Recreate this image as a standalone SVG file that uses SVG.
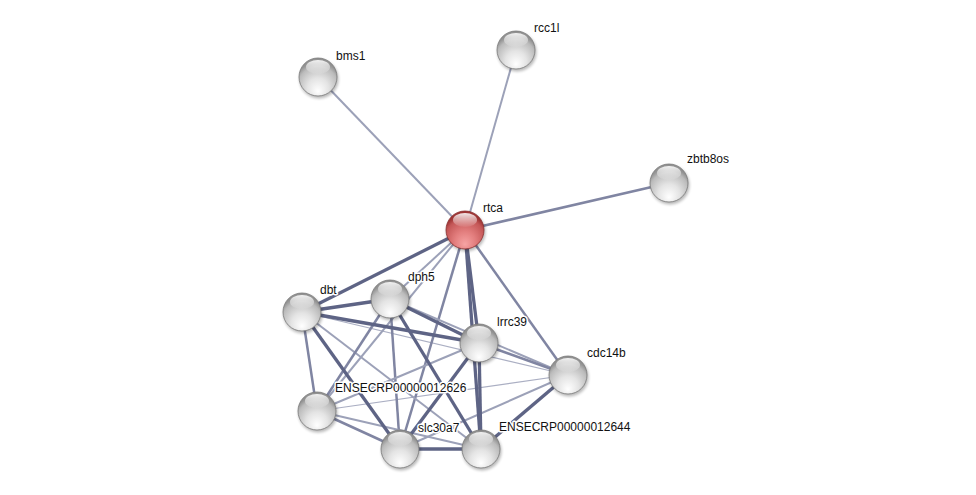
<svg xmlns="http://www.w3.org/2000/svg" width="976" height="495" viewBox="0 0 976 495">
<defs>
<radialGradient id="gBall" cx="50%" cy="72%" r="62%" fx="50%" fy="88%">
<stop offset="0" stop-color="#ffffff"/>
<stop offset="0.45" stop-color="#e4e4e4"/>
<stop offset="0.85" stop-color="#bbbbbb"/>
<stop offset="1" stop-color="#929292"/>
</radialGradient>
<radialGradient id="gRed" cx="50%" cy="72%" r="62%" fx="50%" fy="88%">
<stop offset="0" stop-color="#f7a4a4"/>
<stop offset="0.45" stop-color="#e27d7d"/>
<stop offset="0.85" stop-color="#c45757"/>
<stop offset="1" stop-color="#9e3535"/>
</radialGradient>
<linearGradient id="gHi" x1="0" y1="0" x2="0" y2="1">
<stop offset="0" stop-color="#fff" stop-opacity="0.9"/>
<stop offset="1" stop-color="#fff" stop-opacity="0.05"/>
</linearGradient>
<filter id="blur" x="-50%" y="-50%" width="200%" height="200%">
<feGaussianBlur stdDeviation="1.5"/>
</filter>
</defs>
<style>
.e{fill:none;stroke-linecap:butt}
.e1{stroke:#abafc3;stroke-width:1.2}
.e2{stroke:#9ca1b8;stroke-width:2}
.e3{stroke:#8085a2;stroke-width:2.5}
.e4{stroke:#5e6485;stroke-width:3.3}
.sh{fill:#000;opacity:0.28;filter:url(#blur)}
.ball{fill:url(#gBall);stroke:#7a7a7a;stroke-width:0.8}
.red{fill:url(#gRed);stroke:#8a2e2e;stroke-width:0.8}
.hi{fill:url(#gHi)}
text{font-family:"Liberation Sans",Arial,sans-serif;font-size:12px;fill:#111;paint-order:stroke;stroke:#fff;stroke-width:3px;stroke-linejoin:round}
</style>
<rect width="976" height="495" fill="#fff"/>
<g id="connectors">
<line class="e e2" x1="465" y1="230" x2="318" y2="77"/>
<line class="e e2" x1="465" y1="230" x2="516" y2="50"/>
<line class="e e3" x1="465" y1="230" x2="669" y2="183"/>
<line class="e e1" x1="302" y1="312" x2="568" y2="375"/>
<line class="e e1" x1="317" y1="411" x2="568" y2="375"/>
<line class="e e2" x1="465" y1="230" x2="390" y2="299"/>
<line class="e e2" x1="465" y1="230" x2="317" y2="411"/>
<line class="e e3" x1="465" y1="230" x2="400" y2="449"/>
<line class="e e3" x1="465" y1="230" x2="568" y2="375"/>
<line class="e e2" x1="302" y1="312" x2="481" y2="449"/>
<line class="e e2" x1="390" y1="299" x2="568" y2="375"/>
<line class="e e3" x1="390" y1="299" x2="317" y2="411"/>
<line class="e e3" x1="390" y1="299" x2="400" y2="449"/>
<line class="e e3" x1="302" y1="312" x2="317" y2="411"/>
<line class="e e3" x1="479" y1="343" x2="568" y2="375"/>
<line class="e e2" x1="479" y1="343" x2="317" y2="411"/>
<line class="e e2" x1="568" y1="375" x2="400" y2="449"/>
<line class="e e3" x1="317" y1="411" x2="400" y2="449"/>
<line class="e e2" x1="317" y1="411" x2="481" y2="449"/>
<line class="e e4" x1="465" y1="230" x2="302" y2="312"/>
<line class="e e4" x1="465" y1="230" x2="479" y2="343"/>
<line class="e e4" x1="465" y1="230" x2="481" y2="449"/>
<line class="e e4" x1="302" y1="312" x2="390" y2="299"/>
<line class="e e4" x1="302" y1="312" x2="479" y2="343"/>
<line class="e e4" x1="302" y1="312" x2="400" y2="449"/>
<line class="e e4" x1="390" y1="299" x2="479" y2="343"/>
<line class="e e4" x1="390" y1="299" x2="481" y2="449"/>
<line class="e e4" x1="479" y1="343" x2="400" y2="449"/>
<line class="e e4" x1="479" y1="343" x2="481" y2="449"/>
<line class="e e4" x1="568" y1="375" x2="481" y2="449"/>
<line class="e e4" x1="400" y1="449" x2="481" y2="449"/>
</g>
<g id="node-bms1" transform="translate(318,77)">
<circle class="sh" cx="1" cy="2" r="19.5"/><circle class="ball" r="19"/><ellipse class="hi" cx="0" cy="-10" rx="12" ry="7"/>
<text x="18" y="-17">bms1</text>
</g>
<g id="node-rcc1l" transform="translate(516,50)">
<circle class="sh" cx="1" cy="2" r="19.5"/><circle class="ball" r="19"/><ellipse class="hi" cx="0" cy="-10" rx="12" ry="7"/>
<text x="18" y="-18">rcc1l</text>
</g>
<g id="node-zbtb8os" transform="translate(669,183)">
<circle class="sh" cx="1" cy="2" r="19.5"/><circle class="ball" r="19"/><ellipse class="hi" cx="0" cy="-10" rx="12" ry="7"/>
<text x="18" y="-20">zbtb8os</text>
</g>
<g id="node-rtca" transform="translate(465,230)">
<circle class="sh" cx="1" cy="2" r="19.5"/><circle class="red" r="19"/><ellipse class="hi" cx="0" cy="-10" rx="12" ry="7"/>
<text x="18" y="-18">rtca</text>
</g>
<g id="node-dbt" transform="translate(302,312)">
<circle class="sh" cx="1" cy="2" r="19.5"/><circle class="ball" r="19"/><ellipse class="hi" cx="0" cy="-10" rx="12" ry="7"/>
<text x="18" y="-18">dbt</text>
</g>
<g id="node-dph5" transform="translate(390,299)">
<circle class="sh" cx="1" cy="2" r="19.5"/><circle class="ball" r="19"/><ellipse class="hi" cx="0" cy="-10" rx="12" ry="7"/>
<text x="18" y="-18">dph5</text>
</g>
<g id="node-lrrc39" transform="translate(479,343)">
<circle class="sh" cx="1" cy="2" r="19.5"/><circle class="ball" r="19"/><ellipse class="hi" cx="0" cy="-10" rx="12" ry="7"/>
<text x="18" y="-17">lrrc39</text>
</g>
<g id="node-cdc14b" transform="translate(568,375)">
<circle class="sh" cx="1" cy="2" r="19.5"/><circle class="ball" r="19"/><ellipse class="hi" cx="0" cy="-10" rx="12" ry="7"/>
<text x="19" y="-18">cdc14b</text>
</g>
<g id="node-ENSECRP00000012626" transform="translate(317,411)">
<circle class="sh" cx="1" cy="2" r="19.5"/><circle class="ball" r="19"/><ellipse class="hi" cx="0" cy="-10" rx="12" ry="7"/>
<text x="18" y="-19">ENSECRP00000012626</text>
</g>
<g id="node-slc30a7" transform="translate(400,449)">
<circle class="sh" cx="1" cy="2" r="19.5"/><circle class="ball" r="19"/><ellipse class="hi" cx="0" cy="-10" rx="12" ry="7"/>
<text x="18" y="-17">slc30a7</text>
</g>
<g id="node-ENSECRP00000012644" transform="translate(481,449)">
<circle class="sh" cx="1" cy="2" r="19.5"/><circle class="ball" r="19"/><ellipse class="hi" cx="0" cy="-10" rx="12" ry="7"/>
<text x="18" y="-18">ENSECRP00000012644</text>
</g>
</svg>
